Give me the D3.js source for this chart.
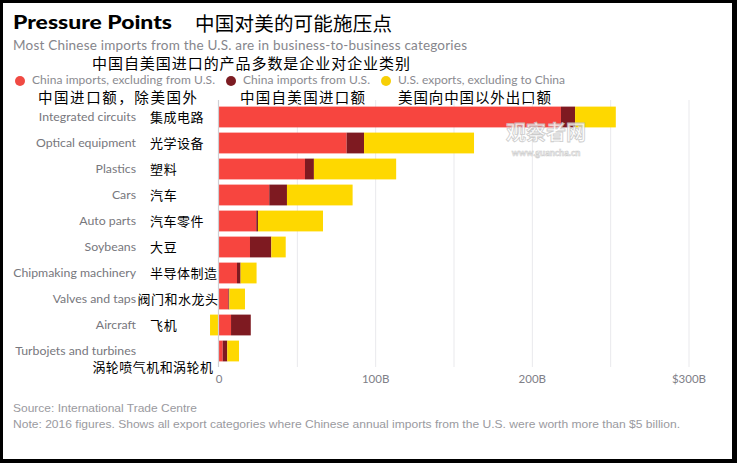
<!DOCTYPE html>
<html>
<head>
<meta charset="utf-8">
<script src="https://cdn.jsdelivr.net/npm/d3@7"></script>
<style>
  html, body { margin: 0; padding: 0; background: #000; }
  svg { display: block; }
</style>
</head>
<body>
<svg id="chart" width="737" height="463"></svg>
<script>
// ---------- DATA ----------
const categories = ["Integrated circuits", "Optical equipment", "Plastics", "Cars", "Auto parts",
  "Soybeans", "Chipmaking machinery", "Valves and taps", "Aircraft", "Turbojets and turbines"];
const categoriesZh = ["集成电路", "光学设备", "塑料", "汽车", "汽车零件",
  "大豆", "半导体制造", "阀门和水龙头", "飞机", "涡轮喷气机和涡轮机"];
// $ billions, 2016
const chinaImportsExclUS = [218.6, 81.8, 55.2, 32.4, 24.1, 20.1, 11.8, 6.3, 8.0, 2.7];
const chinaImportsFromUS = [9.0, 11.1, 5.7, 11.3, 1.1, 13.6, 2.3, 0.6, 12.6, 2.9];
const usExportsExclChina = [26.0, 70.2, 52.5, 41.9, 41.5, 9.2, 10.2, 10.0, -5.4, 7.5];
const seriesNames = ["China imports, excluding from U.S.", "China imports from U.S.", "U.S. exports, excluding to China"];
const seriesNamesZh = ["中国进口额，除美国外", "中国自美国进口额", "美国向中国以外出口额"];
const tickValues = [0, 100, 200, 300];
const tickLabels = ["0", "100B", "200B", "$300B"];
const gridValues = [50, 100, 150, 200, 250, 300];

// ---------- STYLE ----------
const colors = ["#f7453f", "#7e1a21", "#fed800"];
const legendColors = ["#f04a43", "#7c1c22", "#f7cf06"];
const latin = "Lato, 'Open Sans', sans-serif";
const cjk = "'Noto Sans CJK SC', sans-serif";

const svg = d3.select("#chart");
// white card inside black frame
svg.append("rect").attr("x", 3).attr("y", 3).attr("width", 729).attr("height", 456).attr("fill", "#fff");

// ---------- SCALES ----------
const x = d3.scaleLinear().domain([0, 300]).range([218.5, 688.5]);
const y = d3.scaleBand().domain(categories).range([104, 364]).paddingInner(0.2).paddingOuter(0.1);

// ---------- TITLE ----------
svg.append("text").attr("x", 13).attr("y", 29)
  .attr("font-family", "Lato, Roboto, sans-serif").attr("font-weight", 900)
  .attr("font-size", 18).attr("fill", "#000")
  .attr("textLength", 159).attr("lengthAdjust", "spacingAndGlyphs")
  .text("Pressure Points");
svg.append("text").attr("x", 195).attr("y", 31)
  .attr("font-family", cjk).attr("font-size", 19.5).attr("fill", "#000")
  .attr("textLength", 197).attr("lengthAdjust", "spacing")
  .text("中国对美的可能施压点");
svg.append("text").attr("x", 13).attr("y", 50)
  .attr("font-family", latin).attr("font-size", 13.5).attr("fill", "#86868c")
  .attr("textLength", 454).attr("lengthAdjust", "spacing")
  .text("Most Chinese imports from the U.S. are in business-to-business categories");
svg.append("text").attr("x", 92).attr("y", 69)
  .attr("font-family", cjk).attr("font-size", 15).attr("fill", "#000")
  .attr("textLength", 318).attr("lengthAdjust", "spacing")
  .text("中国自美国进口的产品多数是企业对企业类别");

// ---------- LEGEND ----------
const legX = [20, 231, 386];
const legTextLen = [183, 127, 167];
const legZhX = [38, 240, 398];
const legZhLen = [159, 125, 153];
seriesNames.forEach((name, i) => {
  svg.append("circle").attr("cx", legX[i]).attr("cy", 81).attr("r", 5).attr("fill", legendColors[i]);
  svg.append("text").attr("x", legX[i] + 12).attr("y", 84)
    .attr("font-family", latin).attr("font-size", 12).attr("fill", "#8a8a90")
    .attr("textLength", legTextLen[i]).attr("lengthAdjust", "spacing")
    .text(name);
  svg.append("text").attr("x", legZhX[i]).attr("y", 103)
    .attr("font-family", cjk).attr("font-size", 14.5).attr("fill", "#000")
    .attr("textLength", legZhLen[i]).attr("lengthAdjust", "spacing")
    .text(seriesNamesZh[i]);
});

// ---------- GRID ----------
const gridG = svg.append("g").attr("transform", "translate(0,100)")
  .call(d3.axisBottom(x).tickValues(gridValues).tickSize(267).tickFormat(""));
gridG.select(".domain").remove();
gridG.selectAll(".tick line").attr("stroke", "#e9e9ec").attr("stroke-width", 1);

// ---------- BARS ----------
const rows = categories.map((c, i) => ({
  cat: c, a: chinaImportsExclUS[i], b: chinaImportsFromUS[i], c2: usExportsExclChina[i]
}));
const stack = d3.stack().keys(["a", "b", "c2"]).offset(d3.stackOffsetDiverging);
const stacked = stack(rows);
svg.append("g").selectAll("g").data(stacked).join("g")
  .attr("fill", (d, i) => colors[i])
  .selectAll("rect").data(d => d).join("rect")
  .attr("x", d => x(Math.min(d[0], d[1])))
  .attr("width", d => Math.abs(x(d[1]) - x(d[0])))
  .attr("y", d => y(d.data.cat))
  .attr("height", y.bandwidth());

// zero line
svg.append("line").attr("x1", x(0)).attr("x2", x(0)).attr("y1", 100).attr("y2", 367)
  .attr("stroke", "#cfcfd3").attr("stroke-width", 1.2);

// ---------- X AXIS ----------
const axG = svg.append("g").attr("transform", "translate(0,372)")
  .call(d3.axisBottom(x).tickValues(tickValues).tickSize(0).tickFormat((d, i) => tickLabels[i]));
axG.select(".domain").remove();
axG.selectAll(".tick text").attr("font-family", latin).attr("font-size", 11.5)
  .attr("fill", "#808088").attr("dy", "0.71em");

// ---------- CATEGORY LABELS ----------
const labG = svg.append("g");
categories.forEach((c, i) => {
  const cy = y(c) + y.bandwidth() / 2;
  labG.append("text").attr("x", 136).attr("y", cy).attr("dy", "0.35em")
    .attr("text-anchor", "end")
    .attr("font-family", latin).attr("font-size", 12.3).attr("fill", "#77777d")
    .text(c);
  const zh = categoriesZh[i];
  const w = zh.length * 13.4;
  const t = labG.append("text").attr("dy", "0.35em")
    .attr("font-family", cjk).attr("font-size", 13).attr("fill", "#000")
    .attr("textLength", w).attr("lengthAdjust", "spacing").text(zh);
  if (w > 100) {
    t.attr("x", 213).attr("y", cy + 16).attr("text-anchor", "end");
  } else if (150 + w > 219) {
    t.attr("x", 218).attr("y", cy).attr("text-anchor", "end");
  } else {
    t.attr("x", 150).attr("y", cy);
  }
});

// ---------- FOOTER ----------
svg.append("text").attr("x", 13).attr("y", 412)
  .attr("font-family", "'Liberation Sans', Arial, sans-serif").attr("font-size", 11)
  .attr("fill", "#9a9aa0").attr("textLength", 184).attr("lengthAdjust", "spacingAndGlyphs")
  .text("Source: International Trade Centre");
svg.append("text").attr("x", 13).attr("y", 428)
  .attr("font-family", "'Liberation Sans', Arial, sans-serif").attr("font-size", 11)
  .attr("fill", "#9a9aa0").attr("textLength", 667).attr("lengthAdjust", "spacingAndGlyphs")
  .text("Note: 2016 figures. Shows all export categories where Chinese annual imports from the U.S. were worth more than $5 billion.");

// ---------- WATERMARK ----------
const wm = svg.append("g").attr("opacity", 0.85);
wm.append("text").attr("x", 546).attr("y", 140).attr("text-anchor", "middle")
  .attr("font-family", cjk).attr("font-weight", 700).attr("font-size", 20)
  .attr("fill", "#fff").attr("stroke", "#c4c4c4").attr("stroke-width", 0.8)
  .text("观察者网");
wm.append("text").attr("x", 546).attr("y", 156).attr("text-anchor", "middle")
  .attr("font-family", latin).attr("font-weight", 700).attr("font-size", 9)
  .attr("fill", "#fff").attr("stroke", "#c4c4c4").attr("stroke-width", 0.6)
  .text("www.guancha.cn");
</script>
</body>
</html>
